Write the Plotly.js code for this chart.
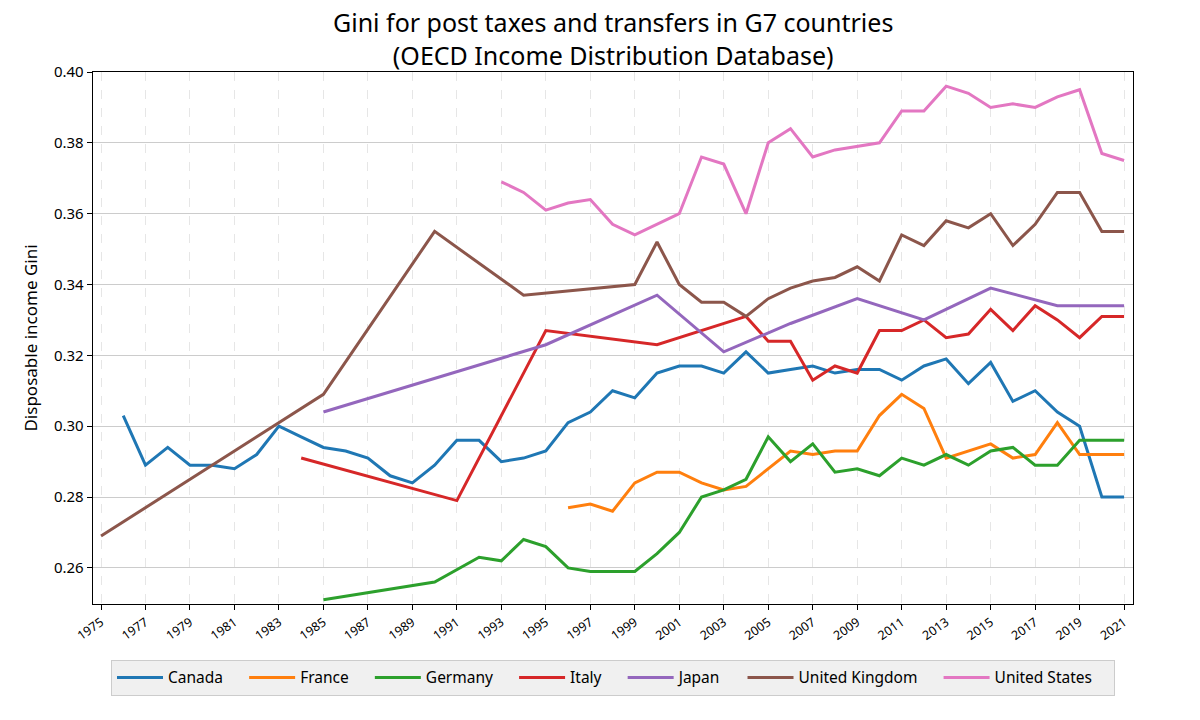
<!DOCTYPE html>
<html>
<head>
<meta charset="utf-8">
<script src="https://cdn.plot.ly/plotly-3.0.1.min.js"></script>
<style>
  html, body { margin: 0; padding: 0; background: #fff; }
  #chart { width: 1200px; height: 720px; }
</style>
</head>
<body>
<div id="chart"></div>
<script>
// Gini values, one pair of arrays per country
const canadaYears = [1976, 1977, 1978, 1979, 1980, 1981, 1982, 1983, 1984, 1985, 1986, 1987, 1988, 1989, 1990,
  1991, 1992, 1993, 1994, 1995, 1996, 1997, 1998, 1999, 2000, 2001, 2002, 2003, 2004, 2005, 2006, 2007, 2008,
  2009, 2010, 2011, 2012, 2013, 2014, 2015, 2016, 2017, 2018, 2019, 2020, 2021];
const canadaGini = [0.303, 0.289, 0.294, 0.289, 0.289, 0.288, 0.292, 0.300, 0.297, 0.294, 0.293, 0.291, 0.286, 0.284, 0.289,
  0.296, 0.296, 0.290, 0.291, 0.293, 0.301, 0.304, 0.310, 0.308, 0.315, 0.317, 0.317, 0.315, 0.321, 0.315, 0.316, 0.317, 0.315,
  0.316, 0.316, 0.313, 0.317, 0.319, 0.312, 0.318, 0.307, 0.310, 0.304, 0.300, 0.280, 0.280];

const franceYears = [1996, 1997, 1998, 1999, 2000, 2001, 2002, 2003, 2004, 2005, 2006, 2007, 2008,
  2009, 2010, 2011, 2012, 2013, 2014, 2015, 2016, 2017, 2018, 2019, 2020, 2021];
const franceGini = [0.277, 0.278, 0.276, 0.284, 0.287, 0.287, 0.284, 0.282, 0.283, 0.288, 0.293, 0.292, 0.293,
  0.293, 0.303, 0.309, 0.305, 0.291, 0.293, 0.295, 0.291, 0.292, 0.301, 0.292, 0.292, 0.292];

const germanyYears = [1985, 1990, 1992, 1993, 1994, 1995, 1996, 1997, 1998, 1999, 2000, 2001, 2002, 2003, 2004,
  2005, 2006, 2007, 2008, 2009, 2010, 2011, 2012, 2013, 2014, 2015, 2016, 2017, 2018, 2019, 2020, 2021];
const germanyGini = [0.251, 0.256, 0.263, 0.262, 0.268, 0.266, 0.260, 0.259, 0.259, 0.259, 0.264, 0.270, 0.280, 0.282, 0.285,
  0.297, 0.290, 0.295, 0.287, 0.288, 0.286, 0.291, 0.289, 0.292, 0.289, 0.293, 0.294, 0.289, 0.289, 0.296, 0.296, 0.296];

const italyYears = [1984, 1991, 1995, 2000, 2004, 2005, 2006, 2007, 2008, 2009, 2010, 2011, 2012,
  2013, 2014, 2015, 2016, 2017, 2018, 2019, 2020, 2021];
const italyGini = [0.291, 0.279, 0.327, 0.323, 0.331, 0.324, 0.324, 0.313, 0.317, 0.315, 0.327, 0.327, 0.330,
  0.325, 0.326, 0.333, 0.327, 0.334, 0.330, 0.325, 0.331, 0.331];

const japanYears = [1985, 1995, 2000, 2003, 2006, 2009, 2012, 2015, 2018, 2021];
const japanGini = [0.304, 0.323, 0.337, 0.321, 0.329, 0.336, 0.330, 0.339, 0.334, 0.334];

const ukYears = [1975, 1985, 1990, 1994, 1999, 2000, 2001, 2002, 2003, 2004, 2005, 2006, 2007, 2008,
  2009, 2010, 2011, 2012, 2013, 2014, 2015, 2016, 2017, 2018, 2019, 2020, 2021];
const ukGini = [0.269, 0.309, 0.355, 0.337, 0.340, 0.352, 0.340, 0.335, 0.335, 0.331, 0.336, 0.339, 0.341, 0.342,
  0.345, 0.341, 0.354, 0.351, 0.358, 0.356, 0.360, 0.351, 0.357, 0.366, 0.366, 0.355, 0.355];

const usYears = [1993, 1994, 1995, 1996, 1997, 1998, 1999, 2000, 2001, 2002, 2003, 2004, 2005, 2006, 2007,
  2008, 2009, 2010, 2011, 2012, 2013, 2014, 2015, 2016, 2017, 2018, 2019, 2020, 2021];
const usGini = [0.369, 0.366, 0.361, 0.363, 0.364, 0.357, 0.354, 0.357, 0.360, 0.376, 0.374, 0.360, 0.380, 0.384, 0.376,
  0.378, 0.379, 0.380, 0.389, 0.389, 0.396, 0.394, 0.390, 0.391, 0.390, 0.393, 0.395, 0.377, 0.375];

const yearTicks = [1975, 1977, 1979, 1981, 1983, 1985, 1987, 1989, 1991, 1993, 1995, 1997, 1999,
  2001, 2003, 2005, 2007, 2009, 2011, 2013, 2015, 2017, 2019, 2021];
const giniTicks = [0.26, 0.28, 0.30, 0.32, 0.34, 0.36, 0.38, 0.40];

const countries = [
  { name: 'Canada', x: canadaYears, y: canadaGini, color: '#1f77b4' },
  { name: 'France', x: franceYears, y: franceGini, color: '#ff7f0e' },
  { name: 'Germany', x: germanyYears, y: germanyGini, color: '#2ca02c' },
  { name: 'Italy', x: italyYears, y: italyGini, color: '#d62728' },
  { name: 'Japan', x: japanYears, y: japanGini, color: '#9467bd' },
  { name: 'United Kingdom', x: ukYears, y: ukGini, color: '#8c564b' },
  { name: 'United States', x: usYears, y: usGini, color: '#e377c2' }
];

// a little padding after each legend label so the entries spread out like the original
const pad = '\u00a0\u00a0\u00a0\u00a0';

const data = countries.map(c => ({
  x: c.x,
  y: c.y,
  name: c.name + pad,
  type: 'scatter',
  mode: 'lines',
  line: { color: c.color, width: 3 }
}));

const font = 'Noto Sans, DejaVu Sans, sans-serif';

const layout = {
  width: 1200,
  height: 720,
  paper_bgcolor: '#ffffff',
  plot_bgcolor: '#ffffff',
  font: { family: font, color: '#000' },
  margin: { l: 93, r: 67, t: 72, b: 116, pad: 0 },
  title: {
    text: 'Gini for post taxes and transfers in G7 countries<br>(OECD Income Distribution Database)',
    font: { family: font, size: 25, color: '#000' },
    x: 0.511, xanchor: 'center',
    y: 0.955, yanchor: 'top'
  },
  xaxis: {
    range: [1974.64, 2021.4],
    tickmode: 'array',
    tickvals: yearTicks,
    ticktext: yearTicks.map(String),
    tickangle: -35,
    tickfont: { size: 12.5 },
    ticks: 'outside', ticklen: 5, tickcolor: '#000',
    showgrid: true, gridcolor: '#e6e6e6', griddash: 'dash', gridwidth: 1,
    showline: true, linecolor: '#000', linewidth: 1.3, mirror: true,
    zeroline: false
  },
  yaxis: {
    range: [0.2498, 0.40],
    tickmode: 'array',
    tickvals: giniTicks,
    ticktext: giniTicks.map(v => v.toFixed(2)),
    tickfont: { size: 15 },
    ticks: 'outside', ticklen: 5, tickcolor: '#000',
    showgrid: true, gridcolor: '#cccccc', gridwidth: 1,
    showline: true, linecolor: '#000', linewidth: 1.3, mirror: true,
    zeroline: false,
    title: { text: 'Disposable income Gini', font: { size: 17 }, standoff: 12 }
  },
  showlegend: true,
  legend: {
    orientation: 'h',
    x: 0.5, xanchor: 'center',
    y: -0.105, yanchor: 'top',
    bgcolor: '#f0f0f0',
    bordercolor: '#cccccc',
    borderwidth: 1,
    font: { size: 15.5 },
    itemwidth: 46,
    traceorder: 'normal'
  }
};

Plotly.newPlot('chart', data, layout, { displayModeBar: false, staticPlot: true });
</script>
</body>
</html>
